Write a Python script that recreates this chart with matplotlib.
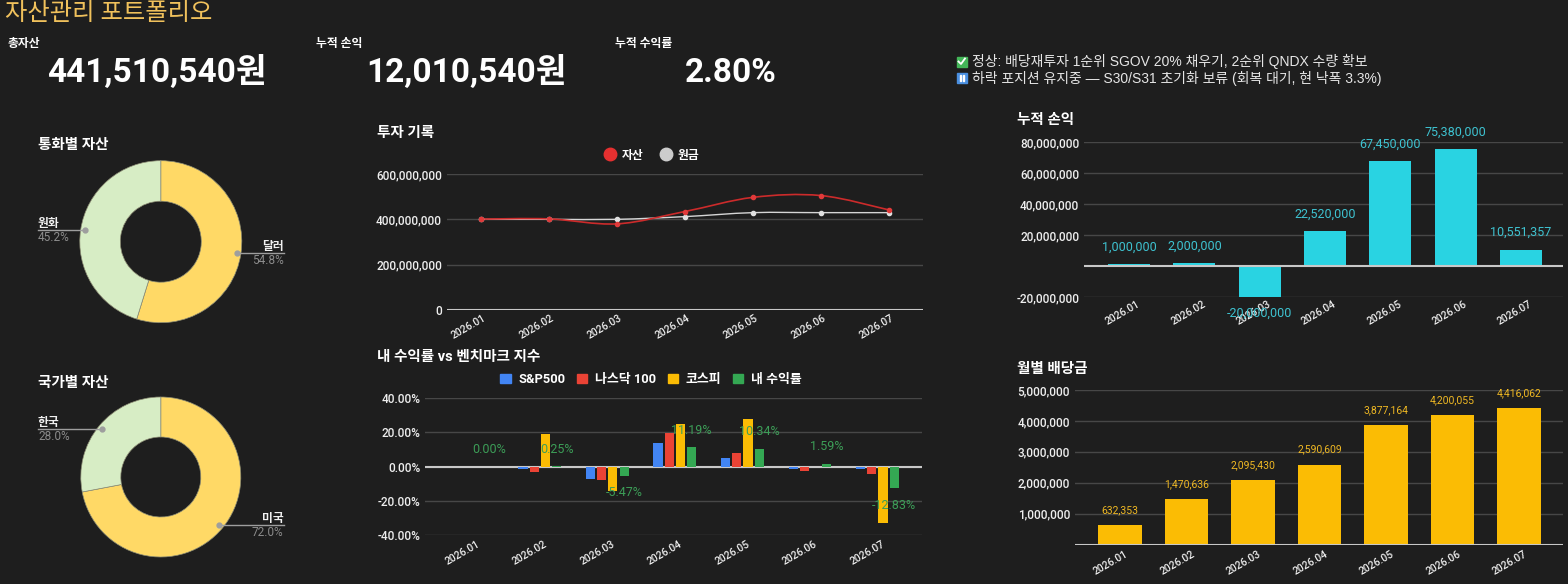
import matplotlib
matplotlib.use('Agg')

import numpy as np
import matplotlib.pyplot as plt
from matplotlib.path import Path
from matplotlib.patches import PathPatch, Patch, Rectangle
from matplotlib.lines import Line2D
import matplotlib.transforms as mtransforms

plt.rcParams['font.family'] = ['Roboto', 'Noto Sans CJK KR', 'DejaVu Sans']

#########################
# data

months = ['2026.01', '2026.02', '2026.03', '2026.04', '2026.05', '2026.06', '2026.07']

asset = [401000000, 402000000, 380000000, 434520000, 496950000, 504880000, 441510540]
principal = [400000000, 400000000, 400000000, 412000000, 429500000, 429500000, 429500000]

cum_pnl = [1000000, 2000000, -20000000, 22520000, 67450000, 75380000, 10551357]
dividend = [632353, 1470636, 2095430, 2590609, 3877164, 4200055, 4416062]

bench_names = ['S&P500', '나스닥 100', '코스피', '내 수익률']
sp500 = [0.0, -1.2, -7.6, 13.6, 5.1, -1.2, -1.2]
nasdaq = [0.0, -3.1, -8.2, 19.7, 8.2, -2.5, -4.3]
kospi = [0.0, 18.9, -14.6, 24.8, 27.9, 0.0, -33.3]
my_return = [0.00, 0.25, -5.47, 11.19, 10.34, 1.59, -12.83]

currency_labels = ['달러', '원화']
currency_share = [54.8, 45.2]
country_labels = ['미국', '한국']
country_share = [72.0, 28.0]

total_asset = '441,510,540원'
total_pnl = '12,010,540원'
total_rate = '2.80%'
notes = ['정상: 배당재투자 1순위 SGOV 20% 채우기, 2순위 QNDX 수량 확보',
         '하락 포지션 유지중 — S30/S31 초기화 보류 (회복 대기, 현 낙폭 3.3%)']

#########################

BG = '#1e1e1e'
GRID = '#474747'
BASE = '#c8c8c8'
TICK = '#eeeeee'
W, H = 1568, 584

fig = plt.figure(figsize=(W / 100, H / 100), dpi=100, facecolor=BG)


def fx(x):
    return x / W


def fy(y):
    return 1 - y / H


def ftext(x, y, s, **kw):
    return fig.text(fx(x), fy(y), s, **kw)


def box(l, t, r, b):
    return [fx(l), fy(b), (r - l) / W, (b - t) / H]


def style_axes(ax):
    ax.set_facecolor(BG)
    for sp in ax.spines.values():
        sp.set_visible(False)
    ax.tick_params(axis='both', length=0, pad=3.5, colors=TICK, labelsize=8.5)
    ax.set_xticks([])
    ax.grid(axis='y', color=GRID, lw=1)
    ax.set_axisbelow(True)


def month_labels(ax, dx=-10, dy=-17):
    # rotated category labels, centred a few pixels under the plot
    tr = mtransforms.blended_transform_factory(ax.transData, ax.transAxes)
    off = mtransforms.ScaledTranslation(dx / 100, dy / 100, fig.dpi_scale_trans)
    for i, m in enumerate(months):
        ax.text(i, 0, m, transform=tr + off, rotation=30, rotation_mode='anchor',
                ha='center', va='center', fontsize=7.5, fontweight='medium',
                color=TICK, clip_on=False)


def smooth_path(xs, ys):
    pts = list(zip(xs, ys))
    verts = [pts[0]]
    codes = [Path.MOVETO]
    n = len(pts)
    for i in range(n - 1):
        p0 = pts[max(i - 1, 0)]
        p1 = pts[i]
        p2 = pts[i + 1]
        p3 = pts[min(i + 2, n - 1)]
        c1 = (p1[0] + (p2[0] - p0[0]) / 6, p1[1] + (p2[1] - p0[1]) / 6)
        c2 = (p2[0] - (p3[0] - p1[0]) / 6, p2[1] - (p3[1] - p1[1]) / 6)
        verts += [c1, c2, p2]
        codes += [Path.CURVE4] * 3
    return Path(verts, codes)


#########################
# header

ftext(5, 14, '자산관리 포트폴리오', fontsize=17.5, color='#f0c15c', va='center')

ftext(8, 43, '총자산', fontsize=8.5, fontweight='bold', color='white', va='center')
ftext(316, 43, '누적 손익', fontsize=8.5, fontweight='bold', color='white', va='center')
ftext(615, 43, '누적 수익률', fontsize=8.5, fontweight='bold', color='white', va='center')
ftext(47, 82, total_asset, fontsize=24, fontweight='bold', color='white', va='baseline')
ftext(366, 82, total_pnl, fontsize=24, fontweight='bold', color='white', va='baseline')
ftext(685, 82, total_rate, fontsize=24, fontweight='bold', color='white', va='baseline')

note_y = [61.5, 78]
icon_col = ['#43b658', '#4a8fe0']
for i, (txt, yy) in enumerate(zip(notes, note_y)):
    fig.add_artist(Rectangle((fx(956.5), fy(yy + 5)), 10 / W, 10 / H,
                             transform=fig.transFigure, color=icon_col[i]))
    if i == 0:
        fig.add_artist(Line2D([fx(958.5), fx(961), fx(965)], [fy(yy), fy(yy + 2.5), fy(yy - 3)],
                              transform=fig.transFigure, color='white', lw=1.3))
    else:
        for bx in (959.5, 962.5):
            fig.add_artist(Rectangle((fx(bx), fy(yy + 3)), 1.8 / W, 6 / H,
                                     transform=fig.transFigure, color='white'))
    ftext(972, yy, txt, fontsize=10, color='#e6e6e6', va='center',
          family=['Liberation Sans', 'Noto Sans CJK KR', 'DejaVu Sans'])


#########################
# donuts

def donut(title, title_y, cx, cy, r, labels, shares):
    ftext(38, title_y, title, fontsize=10.5, fontweight='bold', color='white', va='center')
    ax = fig.add_axes(box(cx - r, cy - r, cx + r, cy + r))
    ax.pie(shares, colors=['#ffd966', '#d7edc5'], startangle=90, counterclock=False,
           wedgeprops=dict(width=0.5, edgecolor='#8c8c74', linewidth=0.5))
    ax.set_xlim(-1, 1)
    ax.set_ylim(-1, 1)
    ax.set_aspect('equal')
    ax.axis('off')
    total = float(sum(shares))
    before = 0.0
    for lab, v in zip(labels, shares):
        mid = 360.0 * (before + v / 2.0) / total
        before += v
        ang = np.deg2rad(90 - mid)
        px, py = 0.95 * np.cos(ang), 0.95 * np.sin(ang)
        ax.plot([px], [py], 'o', ms=3.5, color='#9e9e9e', clip_on=False)
        dx, dy = fig.transFigure.inverted().transform(ax.transData.transform((px, py)))
        if px < 0:
            xe, ha = fx(38), 'left'
        else:
            xe, ha = fx(283.5), 'right'
        fig.add_artist(Line2D([dx, xe], [dy, dy], transform=fig.transFigure, color='#9e9e9e', lw=1))
        fig.text(xe, dy + 6.5 / H, lab, fontsize=8.5, fontweight='bold', color='#f0f0f0',
                 ha=ha, va='center')
        fig.text(xe, dy - 7.5 / H, '%.1f%%' % v, fontsize=8.5, color='#8c8c8c',
                 ha=ha, va='center')


donut('통화별 자산', 145, 160.8, 241.7, 81, currency_labels, currency_share)
donut('국가별 자산', 383.5, 160.8, 477, 80, country_labels, country_share)


#########################
# 투자 기록 (smoothed lines)

ftext(377, 133, '투자 기록', fontsize=10.5, fontweight='bold', color='white', va='center')
ax = fig.add_axes(box(446.8, 174, 923, 310))
style_axes(ax)
ax.set_xlim(-0.5, 6.5)
ax.set_ylim(0, 600000000)
ticks = [0, 200000000, 400000000, 600000000]
ax.set_yticks(ticks)
ax.set_yticklabels(['{:,}'.format(v) for v in ticks], fontweight='medium')
ax.axhline(0, color=BASE, lw=1.5, zorder=1)
xs = list(range(len(months)))
ax.add_patch(PathPatch(smooth_path(xs, principal), fill=False, edgecolor='#d6d6d6', lw=1, zorder=3))
ax.add_patch(PathPatch(smooth_path(xs, asset), fill=False, edgecolor='#cc2b2b', lw=1.2, zorder=4))
ax.plot(xs, principal, 'o', ms=3, color='#e0e0e0', zorder=5)
ax.plot(xs, asset, 'o', ms=3, color='#e03a3a', zorder=5)
month_labels(ax, dx=-12, dy=-17)
handles = [Line2D([], [], marker='o', ls='none', ms=9, color='#e53030'),
           Line2D([], [], marker='o', ls='none', ms=9, color='#cccccc')]
fig.legend(handles, ['자산', '원금'], loc='center', bbox_to_anchor=(fx(652), fy(155)), ncol=2,
           frameon=False, labelcolor='white', handletextpad=0.5,
           columnspacing=1.4, handlelength=1.0, prop={'weight': 'bold', 'size': 8.5})


#########################
# 내 수익률 vs 벤치마크 지수

ftext(377, 357, '내 수익률 vs 벤치마크 지수', fontsize=10.5, fontweight='bold', color='white', va='center')
ax = fig.add_axes(box(425, 398.3, 922, 534.7))
style_axes(ax)
ax.set_xlim(-0.70, 6.66)
ax.set_ylim(-40, 40)
ticks = [-40, -20, 0, 20, 40]
ax.set_yticks(ticks)
ax.set_yticklabels(['%.2f%%' % v for v in ticks], fontweight='medium')
ax.axhline(0, color=BASE, lw=1.5, zorder=1)
bench_cols = ['#4285f4', '#ea4335', '#fbbc04', '#34a853']
series = [sp500, nasdaq, kospi, my_return]
step = 0.166
for k, (vals, col) in enumerate(zip(series, bench_cols)):
    pos = [i + (k - 1.5) * step for i in xs]
    ax.bar(pos, vals, width=0.135, color=col, zorder=2)
for i, v in enumerate(my_return):
    off = 17 if v >= 0 else -17
    ax.annotate('%.2f%%' % v, (i + 1.5 * step, v), xytext=(0, off), textcoords='offset pixels',
                ha='center', va='center', fontsize=9, color='#3c9d57', zorder=6,
                annotation_clip=False)
month_labels(ax, dx=-10, dy=-18)
handles = [Patch(color=c) for c in bench_cols]
fig.legend(handles, bench_names, loc='center', bbox_to_anchor=(fx(651), fy(379.5)), ncol=4,
           frameon=False, labelcolor='white', handletextpad=0.6, columnspacing=0.9,
           handlelength=0.8, handleheight=0.8, prop={'weight': 'bold', 'size': 9.3})


#########################
# 누적 손익

ftext(1017, 120, '누적 손익', fontsize=10.5, fontweight='bold', color='white', va='center')
ax = fig.add_axes(box(1084, 142, 1563, 297))
style_axes(ax)
ax.set_xlim(-0.689, 6.643)
ax.set_ylim(-20000000, 80000000)
ticks = [-20000000, 20000000, 40000000, 60000000, 80000000]
ax.set_yticks(ticks)
ax.set_yticklabels(['{:,}'.format(v) for v in ticks], fontweight='medium')
ax.axhline(0, color=BASE, lw=1.5, zorder=3)
ax.bar(xs, cum_pnl, width=0.64, color='#29d3e2', zorder=2)
for i, v in enumerate(cum_pnl):
    off = 17 if v >= 0 else -16
    ax.annotate('{:,}'.format(v), (i, v), xytext=(0, off), textcoords='offset pixels',
                ha='center', va='center', fontsize=9, color='#3ec3d1', zorder=6,
                annotation_clip=False)
month_labels(ax, dx=-6, dy=-16)


#########################
# 월별 배당금

ftext(1017, 368.5, '월별 배당금', fontsize=10.5, fontweight='bold', color='white', va='center')
ax = fig.add_axes(box(1075, 390, 1563, 544.7))
style_axes(ax)
ax.set_xlim(-0.677, 6.66)
ax.set_ylim(0, 5000000)
ticks = [1000000, 2000000, 3000000, 4000000, 5000000]
ax.set_yticks(ticks)
ax.set_yticklabels(['{:,}'.format(v) for v in ticks], fontweight='medium')
ax.axhline(0, color=BASE, lw=1.5, zorder=3)
ax.bar(xs, dividend, width=0.65, color='#fbbc04', zorder=2)
for i, v in enumerate(dividend):
    ax.annotate('{:,}'.format(v), (i, v), xytext=(0, 15), textcoords='offset pixels',
                ha='center', va='center', fontsize=7.5, color='#efb823', zorder=6,
                annotation_clip=False)
month_labels(ax, dx=-9, dy=-18)

plt.savefig('out.png', dpi=100, facecolor=BG)
